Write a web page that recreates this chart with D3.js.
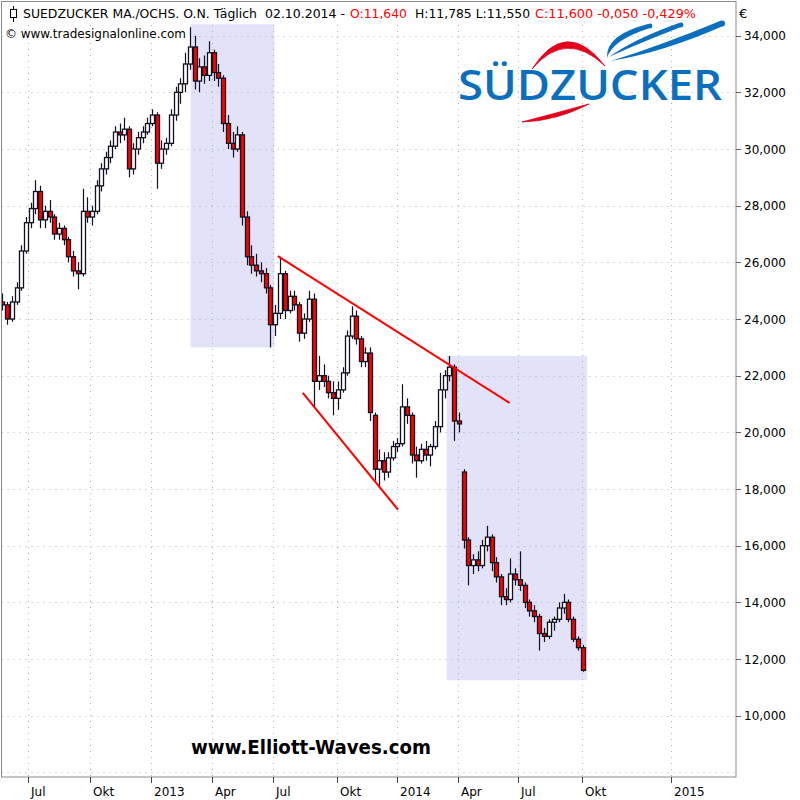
<!DOCTYPE html>
<html><head><meta charset="utf-8">
<script src="https://cdn.jsdelivr.net/npm/d3@7"></script>
<style>body{margin:0;background:#fff}svg{display:block}</style>
</head><body>
<svg id="c" width="800" height="800"></svg>
<script>
// ---------- DATA (weekly candles, EUR) ----------
const weekDates = d3.timeThursday.range(new Date(2012,4,24), new Date(2014,9,3));
const open = [24.6,24.5,24.0,24.6,25.1,26.4,27.4,27.9,28.5,27.5,
27.8,27.6,27.0,27.2,26.8,26.2,25.7,25.6,27.8,27.6,
27.8,28.7,29.3,29.7,30.1,30.6,30.5,30.7,29.3,30.0,
30.4,30.6,30.9,31.2,29.5,30.0,30.2,31.2,32.0,32.3,
33.0,33.6,32.4,32.9,32.6,33.4,32.7,32.5,30.9,30.2,
30.0,30.5,27.6,26.2,25.9,25.7,25.6,25.1,23.8,24.2,
25.6,24.3,24.8,24.5,23.5,24.0,24.7,21.8,22.0,21.8,
21.4,21.2,21.5,22.1,23.4,24.1,23.3,22.5,22.8,20.6,
18.7,19.0,18.6,19.1,19.5,19.6,20.9,20.6,19.2,19.0,
19.4,19.2,19.5,20.2,21.5,22.0,22.3,20.4,18.6,16.2,
15.3,15.5,15.3,16.0,16.3,15.4,14.9,14.2,14.1,15.0,
14.8,14.6,14.0,13.7,13.5,12.9,12.8,13.3,13.4,13.8,
14.0,13.4,12.7,12.4];
const high = [24.9,24.6,24.8,25.3,26.6,27.6,28.1,28.9,28.7,28.0,
28.2,27.7,27.4,27.3,26.9,26.4,26.0,28.6,28.3,28.0,
28.9,29.5,29.9,30.3,30.8,30.9,31.1,30.8,30.2,30.6,
30.8,31.1,31.4,31.3,30.3,30.4,31.4,32.2,32.5,33.4,
34.3,34.0,33.2,33.3,33.8,33.5,33.0,32.6,31.2,30.6,
30.8,30.6,27.8,26.6,26.3,26.0,25.8,25.2,24.5,26.2,
25.7,25.0,25.0,24.6,24.2,25.0,24.9,22.7,22.4,22.0,
21.8,21.8,22.3,23.6,24.45,24.3,23.4,23.0,23.0,20.7,
19.4,19.3,19.3,19.7,19.8,21.7,21.2,20.7,19.5,19.6,
19.7,19.6,20.4,22.1,22.2,22.7,22.4,20.7,18.7,16.3,
15.7,15.8,16.2,16.7,16.4,15.6,15.0,14.5,15.55,15.2,
15.8,14.7,14.1,13.9,13.6,13.1,13.4,13.5,14.0,14.3,
14.1,13.5,12.8,12.5];
const low = [24.3,23.8,23.9,24.5,25.0,26.3,27.2,27.7,27.2,27.2,
27.4,26.8,26.8,26.6,26.0,25.5,25.05,25.5,27.4,27.3,
27.7,28.5,29.1,29.5,30.0,30.2,30.3,29.0,29.1,29.8,
30.2,30.5,30.8,28.6,29.3,29.8,30.1,31.0,31.6,32.0,
32.8,32.1,32.0,32.3,32.4,32.4,32.2,30.6,30.0,29.7,
29.9,27.3,25.9,25.6,25.5,25.3,24.9,23.0,23.4,24.0,
24.0,24.2,24.3,23.2,23.3,23.9,20.9,21.5,21.6,21.2,
20.6,20.8,21.4,22.0,23.3,23.1,22.3,22.3,20.4,18.3,
18.1,18.3,18.4,19.0,19.3,19.5,20.3,18.9,18.4,18.9,
19.0,18.8,19.4,20.0,21.2,21.8,19.7,20.0,15.9,14.6,
15.0,15.1,15.2,15.8,15.1,14.7,13.9,13.9,14.0,14.6,
14.4,13.8,13.5,13.3,12.3,12.6,12.7,13.0,13.3,13.6,
13.3,12.6,12.3,11.55];
const close = [24.5,24.0,24.6,25.1,26.4,27.4,27.9,28.5,27.5,27.8,
27.6,27.0,27.2,26.8,26.2,25.7,25.6,27.8,27.6,27.8,
28.7,29.3,29.7,30.1,30.6,30.5,30.7,29.3,30.0,30.4,
30.6,30.9,31.2,29.5,30.0,30.2,31.2,32.0,32.3,33.0,
33.6,32.4,32.9,32.6,33.4,32.7,32.5,30.9,30.2,30.0,
30.5,27.6,26.2,25.9,25.7,25.6,25.1,23.8,24.2,25.6,
24.3,24.8,24.5,23.5,24.0,24.7,21.8,22.0,21.8,21.4,
21.2,21.5,22.1,23.4,24.1,23.3,22.5,22.8,20.7,18.7,
19.0,18.6,19.1,19.5,19.6,20.9,20.6,19.2,19.0,19.4,
19.2,19.5,20.2,21.5,22.0,22.3,20.4,20.3,16.2,15.3,
15.5,15.3,16.0,16.3,15.4,14.9,14.2,14.1,15.0,14.8,
14.6,14.0,13.7,13.5,12.9,12.8,13.3,13.4,13.8,14.0,
13.4,12.7,12.4,11.6];

const xTickDates = [new Date(2012,6,1),new Date(2012,9,1),new Date(2013,0,1),new Date(2013,3,1),new Date(2013,6,1),new Date(2013,9,1),new Date(2014,0,1),new Date(2014,3,1),new Date(2014,6,1),new Date(2014,9,1),new Date(2015,0,1)];
const xTickLabels = ["Jul","Okt","2013","Apr","Jul","Okt","2014","Apr","Jul","Okt","2015"];
const yTickValues = [34,32,30,28,26,24,22,20,18,16,14,12,10,8];

const zoneStart = [new Date(2013,2,1), new Date(2014,2,16)];
const zoneEnd   = [new Date(2013,6,3), new Date(2014,9,6)];
const zoneLow   = [23.0, 11.25];
const zoneHigh  = [34.4, 22.7];

const trendStartDate = [new Date(2013,6,8), new Date(2013,7,13)];
const trendStartVal  = [26.22, 21.39];
const trendEndDate   = [new Date(2014,5,18), new Date(2014,0,3)];
const trendEndVal    = [21.04, 17.27];

const titleParts = ["SUEDZUCKER MA./OCHS. O.N. Täglich","02.10.2014 -","O:11,640","H:11,785 L:11,550","C:11,600 -0,050 -0,429%"];

// ---------- SCALES ----------
const svg = d3.select("#c");
const L=1.5, T=1.5, R=736, B=777;
const x = d3.scaleTime()
  .domain([new Date(2012,4,22), ...xTickDates, new Date(2015,2,9)])
  .range([1, 28, 90, 150.5, 211.7, 273, 336.7, 396.7, 457.5, 518.3, 582.3, 671, 736]);
const y = d3.scaleLinear().domain([34,10]).range([35.7,715.7]);
const de = d3.formatLocale({decimal:",", thousands:".", grouping:[3], currency:["","€"]});
const fmt = de.format(".3f");

svg.append("defs").append("clipPath").attr("id","pc")
  .append("rect").attr("x",L).attr("y",T).attr("width",R-L).attr("height",B-T);

const plot = svg.append("g").attr("clip-path","url(#pc)");

// shaded zones
plot.selectAll("rect.zone").data(zoneStart).join("rect").attr("class","zone")
  .attr("x",(d,i)=>x(d)).attr("width",(d,i)=>x(zoneEnd[i])-x(d))
  .attr("y",(d,i)=>y(zoneHigh[i])).attr("height",(d,i)=>y(zoneLow[i])-y(zoneHigh[i]))
  .attr("fill","#e2e2f9");

// grid
const gridCol = "#a3b8a3";
plot.selectAll("line.hg").data(yTickValues).join("line").attr("class","hg")
  .attr("x1",L).attr("x2",R).attr("y1",d=>Math.round(y(d))+0.5).attr("y2",d=>Math.round(y(d))+0.5)
  .attr("stroke",gridCol).attr("stroke-dasharray","1,5");
plot.selectAll("line.vg").data(xTickDates).join("line").attr("class","vg")
  .attr("x1",d=>Math.round(x(d))+0.5).attr("x2",d=>Math.round(x(d))+0.5).attr("y1",25).attr("y2",B)
  .attr("stroke",gridCol).attr("stroke-dasharray","1,5");

// logo
const logo = plot.append("g");
const blue = "#0b6fbf", red = "#e3001b";
logo.append("path").attr("d","M532,69 Q566,16 605,66 Q566,29 532,69 Z").attr("fill",red)
  .attr("stroke",red).attr("stroke-width",0.8);
logo.append("path").attr("d","M522,122 Q556,121 589,104 Q556,113 522,122 Z").attr("fill",red)
  .attr("stroke",red).attr("stroke-width",0.8);
// blue swooshes (tapered, thicker at upper-right end)
logo.append("path").attr("d","M648,24 Q605,35 607,58 Q612,40 650,28 Z").attr("fill",blue);
logo.append("circle").attr("cx",650).attr("cy",26).attr("r",2.4).attr("fill",blue);
logo.append("path").attr("d","M679,23 Q634,39 609,57 Q637,44 681,27 Z").attr("fill",blue);
logo.append("circle").attr("cx",681).attr("cy",25).attr("r",2.4).attr("fill",blue);
logo.append("path").attr("d","M720,21 Q662,45 611,61 Q664,52 723,26 Z").attr("fill",blue);
logo.append("circle").attr("cx",722).attr("cy",23.5).attr("r",3).attr("fill",blue);
logo.append("text").attr("x",458).attr("y",100).text("SÜDZUCKER")
  .attr("font-family","'Open Sans', 'Noto Sans', sans-serif").attr("font-weight",600)
  .attr("font-size",42).attr("fill",blue).attr("textLength",264).attr("lengthAdjust","spacingAndGlyphs");

// candles
const idx = d3.range(Math.min(weekDates.length, open.length));
const cg = plot.append("g");
cg.selectAll("line.wick").data(idx).join("line").attr("class","wick")
  .attr("x1",i=>Math.round(x(weekDates[i]))+0.5).attr("x2",i=>Math.round(x(weekDates[i]))+0.5)
  .attr("y1",i=>y(high[i])).attr("y2",i=>y(low[i]))
  .attr("stroke","#111122").attr("stroke-width",1.2);
cg.selectAll("rect.body").data(idx).join("rect").attr("class","body")
  .attr("x",i=>Math.round(x(weekDates[i]))-1.5).attr("width",4)
  .attr("y",i=>y(Math.max(open[i],close[i])))
  .attr("height",i=>Math.max(1,Math.abs(y(open[i])-y(close[i]))))
  .attr("fill",i=>close[i]>=open[i]?"#ffffff":"#ff0000")
  .attr("stroke","#111122").attr("stroke-width",1.3);

// trend lines
plot.selectAll("line.trend").data(trendStartDate).join("line").attr("class","trend")
  .attr("x1",d=>x(d)).attr("y1",(d,i)=>y(trendStartVal[i]))
  .attr("x2",(d,i)=>x(trendEndDate[i])).attr("y2",(d,i)=>y(trendEndVal[i]))
  .attr("stroke","#ff0000").attr("stroke-width",2);

// watermark texts
plot.append("rect").attr("x",3).attr("y",26).attr("width",186).attr("height",15).attr("fill","#fff");
plot.append("text").attr("x",5).attr("y",38).text("© www.tradesignalonline.com")
  .attr("font-family","'DejaVu Sans', sans-serif").attr("font-size",13).attr("fill","#000")
  .attr("textLength",181).attr("lengthAdjust","spacingAndGlyphs");
plot.append("text").attr("x",191).attr("y",754).text("www.Elliott-Waves.com")
  .attr("font-family","'DejaVu Sans', sans-serif").attr("font-weight","bold").attr("font-size",19).attr("fill","#000")
  .attr("textLength",240).attr("lengthAdjust","spacingAndGlyphs");

// frame
svg.append("rect").attr("x",L).attr("y",T).attr("width",R-L).attr("height",B-T)
  .attr("fill","none").attr("stroke","#8a8a8a");

// title
const tX=[23,265,350,415,535], tL=[234,80,57,115,161], tC=["#000","#000","#ff0000","#000","#ff0000"];
titleParts.forEach((s,i)=>{
  svg.append("text").attr("x",tX[i]).attr("y",18).text(s)
    .attr("font-family","'DejaVu Sans', sans-serif").attr("font-size",13).attr("fill",tC[i])
    .attr("textLength",tL[i]).attr("lengthAdjust","spacingAndGlyphs");
});
// title candle icon
svg.append("line").attr("x1",13.5).attr("x2",13.5).attr("y1",6).attr("y2",22).attr("stroke","#000");
svg.append("rect").attr("x",10.5).attr("y",9.5).attr("width",6).attr("height",8).attr("fill","#fff").attr("stroke","#000");

// right axis
svg.append("text").attr("x",739).attr("y",18).text("€")
  .attr("font-family","'DejaVu Sans', sans-serif").attr("font-size",13).attr("fill","#000");
const yt = yTickValues.filter(v=>y(v) < B-20);
svg.selectAll("line.yt").data(yt).join("line").attr("class","yt")
  .attr("x1",R).attr("x2",R+5).attr("y1",d=>Math.round(y(d))+0.5).attr("y2",d=>Math.round(y(d))+0.5)
  .attr("stroke","#666");
svg.selectAll("text.yl").data(yt).join("text").attr("class","yl")
  .attr("x",R+8).attr("y",d=>y(d)+4.5).text(d=>fmt(d))
  .attr("font-family","'DejaVu Sans', sans-serif").attr("font-size",12).attr("fill","#000");

// bottom axis
svg.selectAll("line.xt").data(xTickDates).join("line").attr("class","xt")
  .attr("x1",d=>Math.round(x(d))+0.5).attr("x2",d=>Math.round(x(d))+0.5).attr("y1",B).attr("y2",B+6)
  .attr("stroke","#444");
svg.selectAll("text.xl").data(xTickDates).join("text").attr("class","xl")
  .attr("x",d=>Math.round(x(d))+3).attr("y",796).text((d,i)=>xTickLabels[i])
  .attr("font-family","'DejaVu Sans', sans-serif").attr("font-size",12).attr("fill","#000");
</script>
</body></html>
